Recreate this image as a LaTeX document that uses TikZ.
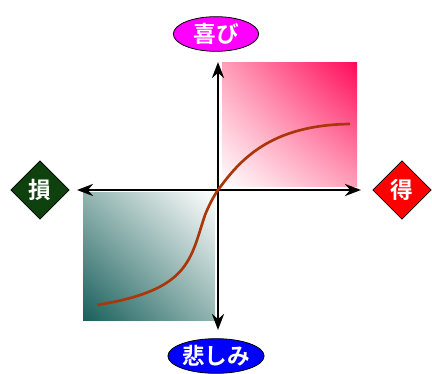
\documentclass[tikz,border=0pt]{standalone}
\usepackage{fontspec}
\newfontfamily\cjk{Noto Sans CJK JP}[BoldFont={Noto Sans CJK JP Bold}]
\usetikzlibrary{shapes.geometric,arrows.meta,shadings}
\definecolor{pinkend}{RGB}{255,10,90}
\definecolor{pinkmid}{RGB}{255,160,185}
\definecolor{tealend}{RGB}{25,95,92}
\definecolor{tealmid}{RGB}{145,180,176}
\definecolor{curvec}{RGB}{170,55,10}
\definecolor{darkgreen}{RGB}{15,65,15}
\definecolor{joyc}{RGB}{255,0,255}
\definecolor{sadc}{RGB}{0,0,255}
\definecolor{gainc}{RGB}{255,0,0}
\tikzset{
  axisline/.style={line width=2.2pt, {Stealth[length=12pt,width=9pt]}-{Stealth[length=12pt,width=9pt]}},
  label/.style={text=white, font=\cjk\bfseries\fontsize{17}{19}\selectfont, draw=black, line width=0.6pt, inner sep=0pt},
  oval/.style={label, ellipse, minimum width=64pt, minimum height=26pt},
  diam/.style={label, diamond, minimum width=44pt, minimum height=44pt},
}
\begin{document}
\begin{tikzpicture}[x=0.75pt,y=-0.75pt]
\useasboundingbox (0,0) rectangle (432,374);
\shade[upper right=pinkend, lower left=white, upper left=pinkmid, lower right=pinkmid] (222,63) rectangle (357,187);
\shade[lower left=tealend, upper right=white, upper left=tealmid, lower right=tealmid] (83,193) rectangle (215,320);
\coordinate (top) at (218,62);
\coordinate (bot) at (218,330);
\coordinate (lft) at (77,190);
\coordinate (rgt) at (361,190);
\coordinate (o) at (218,190);
\draw[axisline] (bot) -- (top);
\draw[axisline] (lft) -- (rgt);
\coordinate (cs) at (97,305);
\coordinate (ce) at (350,124);
\draw[curvec, line width=2pt] (cs) .. controls (190,290) and (190,260) .. (205,215)
  .. controls (212,198) and (218,190) .. (o)
  .. controls (240,160) and (270,125) .. (ce);
\node[oval, fill=joyc] (joy) at (216,34) {喜び};
\node[oval, fill=sadc] (sad) at (216,356) {悲しみ};
\node[diam, fill=darkgreen] (loss) at (40,190) {損};
\node[diam, fill=gainc] (gain) at (402,190) {得};
\end{tikzpicture}
\end{document}
